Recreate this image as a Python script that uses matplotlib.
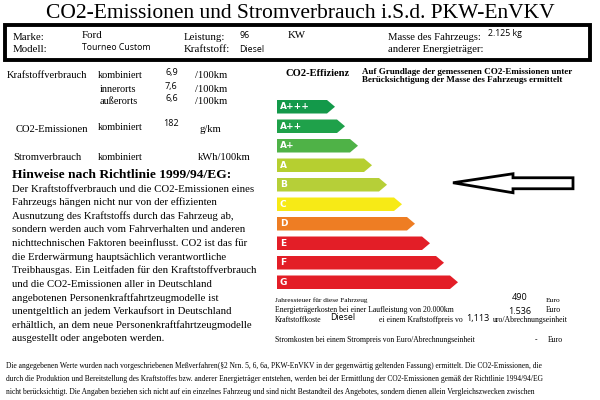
import matplotlib
matplotlib.use('Agg')
import matplotlib.pyplot as plt

# vehicle data
marke = 'Ford'
modell = 'Tourneo Custom'
leistung = '96'
kraftstoff = 'Diesel'
masse = '2.125 kg'

verbrauch_labels = ['kombiniert', 'innerorts', 'außerorts']
verbrauch_values = ['6,9', '7,6', '6,6']
co2_value = '182'

classes = ['A+++', 'A++', 'A+', 'A', 'B', 'C', 'D', 'E', 'F', 'G']
class_colors = ['#13994a', '#1fa14a', '#4fb247', '#b6cf30', '#b6cf38',
                '#f7ea16', '#ee7d23', '#e31e27', '#e31e27', '#e31e27']
bar_ends = [335, 345, 358, 372, 387, 402, 415, 430, 444, 458]
vehicle_class = 'B'

kosten_labels = ['Jahressteuer für diese Fahrzeug',
                 'Energieträgerkosten bei einer Laufleistung von 20.000km',
                 'Stromkosten bei einem Strompreis von Euro/Abrechnungseinheit']
kosten_values = ['490', '1.536', '-']
kraftstoffpreis = '1,113'

hinweis_lines = [
    'Der Kraftstoffverbrauch und die CO2-Emissionen eines',
    'Fahrzeugs hängen nicht nur von der effizienten',
    'Ausnutzung des Kraftstoffs durch das Fahrzeug ab,',
    'sondern werden auch vom Fahrverhalten und anderen',
    'nichttechnischen Faktoren beeinflusst. CO2 ist das für',
    'die Erderwärmung hauptsächlich verantwortliche',
    'Treibhausgas. Ein Leitfaden für den Kraftstoffverbrauch',
    'und die CO2-Emissionen aller in Deutschland',
    'angebotenen Personenkraftfahrtzeugmodelle ist',
    'unentgeltlich an jedem Verkaufsort in Deutschland',
    'erhältlich, an dem neue Personenkraftfahrtzeugmodelle',
    'ausgestellt oder angeboten werden.',
]

fuss_lines = [
    'Die angegebenen Werte wurden nach vorgeschriebenen Meßverfahren(§2 Nrn. 5, 6, 6a, PKW-EnVKV in der gegenwärtig geltenden Fassung) ermittelt. Die CO2-Emissionen, die',
    'durch die Produktion und Bereitstellung des Kraftstoffes bzw. anderer Energieträger entstehen, werden bei der Ermittlung der CO2-Emissionen gemäß der Richtlinie 1994/94/EG',
    'nicht berücksichtigt. Die Angaben beziehen sich nicht auf ein einzelnes Fahrzeug und sind nicht Bestandteil des Angebotes, sondern dienen allein Vergleichszwecken zwischen',
]

SERIF = 'Liberation Serif'
SANS = 'Open Sans'

fig = plt.figure(figsize=(6, 4), dpi=100)
ax = fig.add_axes([0, 0, 1, 1])
ax.set_xlim(0, 600)
ax.set_ylim(400, 0)
ax.axis('off')


def t(x, y, s, size=7.4, family=SERIF, **kw):
    ax.text(x, y, s, fontsize=size, family=family, va='center', ha=kw.pop('ha', 'left'), **kw)


# title and header box
t(300, 14, 'CO2-Emissionen und Stromverbrauch i.S.d. PKW-EnVKV', size=15.5, ha='center')
ax.add_patch(plt.Rectangle((5, 25), 585, 35, fill=False, lw=2.8, edgecolor='black'))
t(13, 37, 'Marke:', size=7.8)
t(13, 50, 'Modell:', size=7.8)
t(82, 36, marke, size=7.8)
t(82, 47, modell, size=6.3, family=SANS)
t(184, 37, 'Leistung:', size=7.8)
t(184, 50, 'Kraftstoff:', size=7.8)
t(239, 36, leistung, size=6.3, family=SANS)
t(239, 49, kraftstoff, size=6.3, family=SANS)
t(288, 36, 'KW', size=7.8)
t(388, 37, 'Masse des Fahrzeugs:', size=7.7)
t(388, 50, 'anderer Energieträger:', size=7.7)
t(488, 34, masse, size=6.3, family=SANS)

# consumption block
t(7, 76, 'Krafstoffverbrauch', size=7.6)
for i, (lab, val) in enumerate(zip(verbrauch_labels, verbrauch_values)):
    y = 76 + 13 * i
    t(98 if i == 0 else 100, y, lab)
    t(165, y - 3, val, size=6.5, family=SANS)
    t(195, y, '/100km', size=7.6)
t(16, 130, 'CO2-Emissionen', size=7.6)
t(98, 128, 'kombiniert')
t(163, 123, co2_value, size=6.5, family=SANS)
t(200, 129, 'g/km', size=7.6)
t(13, 157, 'Stromverbrauch', size=7.6)
t(98, 157, 'kombiniert')
t(198, 157, 'kWh/100km', size=7.6)

# Hinweise
t(12, 175, 'Hinweise nach Richtlinie 1999/94/EG:', size=9.7, weight='bold')
for i, line in enumerate(hinweis_lines):
    t(12, 189 + 13.6 * i, line, size=7.75)

# efficiency scale
t(285, 74, 'CO2-Effizienz', size=7.6, weight='bold')
t(362, 72, 'Auf Grundlage der gemessenen CO2-Emissionen unter', size=6.5, weight='bold')
t(362, 80, 'Berücksichtigung der Masse des Fahrzeugs ermittelt', size=6.5, weight='bold')

x0, h, step, top = 277, 13.5, 19.5, 100
for i, (cls, col, end) in enumerate(zip(classes, class_colors, bar_ends)):
    y = top + step * i
    xs = [x0, end - 8, end, end - 8, x0]
    ys = [y, y, y + h / 2, y + h, y + h]
    ax.fill(xs, ys, facecolor=col, edgecolor='none')
    t(280, y + h / 2, cls, size=6.5, family='DejaVu Sans', color='white', weight='bold')

# arrow pointing at vehicle class
ya = top + step * classes.index(vehicle_class) + h / 2 - 2
ax.fill([453, 513, 513, 573, 573, 513, 513],
        [ya, ya - 9, ya - 5, ya - 5, ya + 6, ya + 6, ya + 10],
        facecolor='white', edgecolor='black', lw=2)

# costs
t(275, 300, kosten_labels[0], size=5.2)
t(512, 298, kosten_values[0], size=6.5, family=SANS)
t(546, 300, 'Euro', size=5.4)
t(275, 310, kosten_labels[1], size=5.55)
t(508, 312, kosten_values[1], size=6.5, family=SANS)
t(546, 310, 'Euro', size=5.6)
t(275, 320, 'Kraftstoffkoste', size=5.6)
t(330, 318, kraftstoff, size=6.3, family=SANS)
t(379, 320, 'ei einem Kraftstoffpreis vo', size=5.6)
t(466, 319, kraftstoffpreis, size=6.5, family=SANS)
t(493, 320, 'uro/Abrechnungseinheit', size=5.6)
t(275, 340, kosten_labels[2], size=5.5)
t(535, 340, kosten_values[2], size=5.5)
t(548, 340, 'Euro', size=5.6)

# footnote
for i, line in enumerate(fuss_lines):
    t(6, 366 + 13 * i, line, size=5.45)

fig.savefig('out.png', dpi=100)
